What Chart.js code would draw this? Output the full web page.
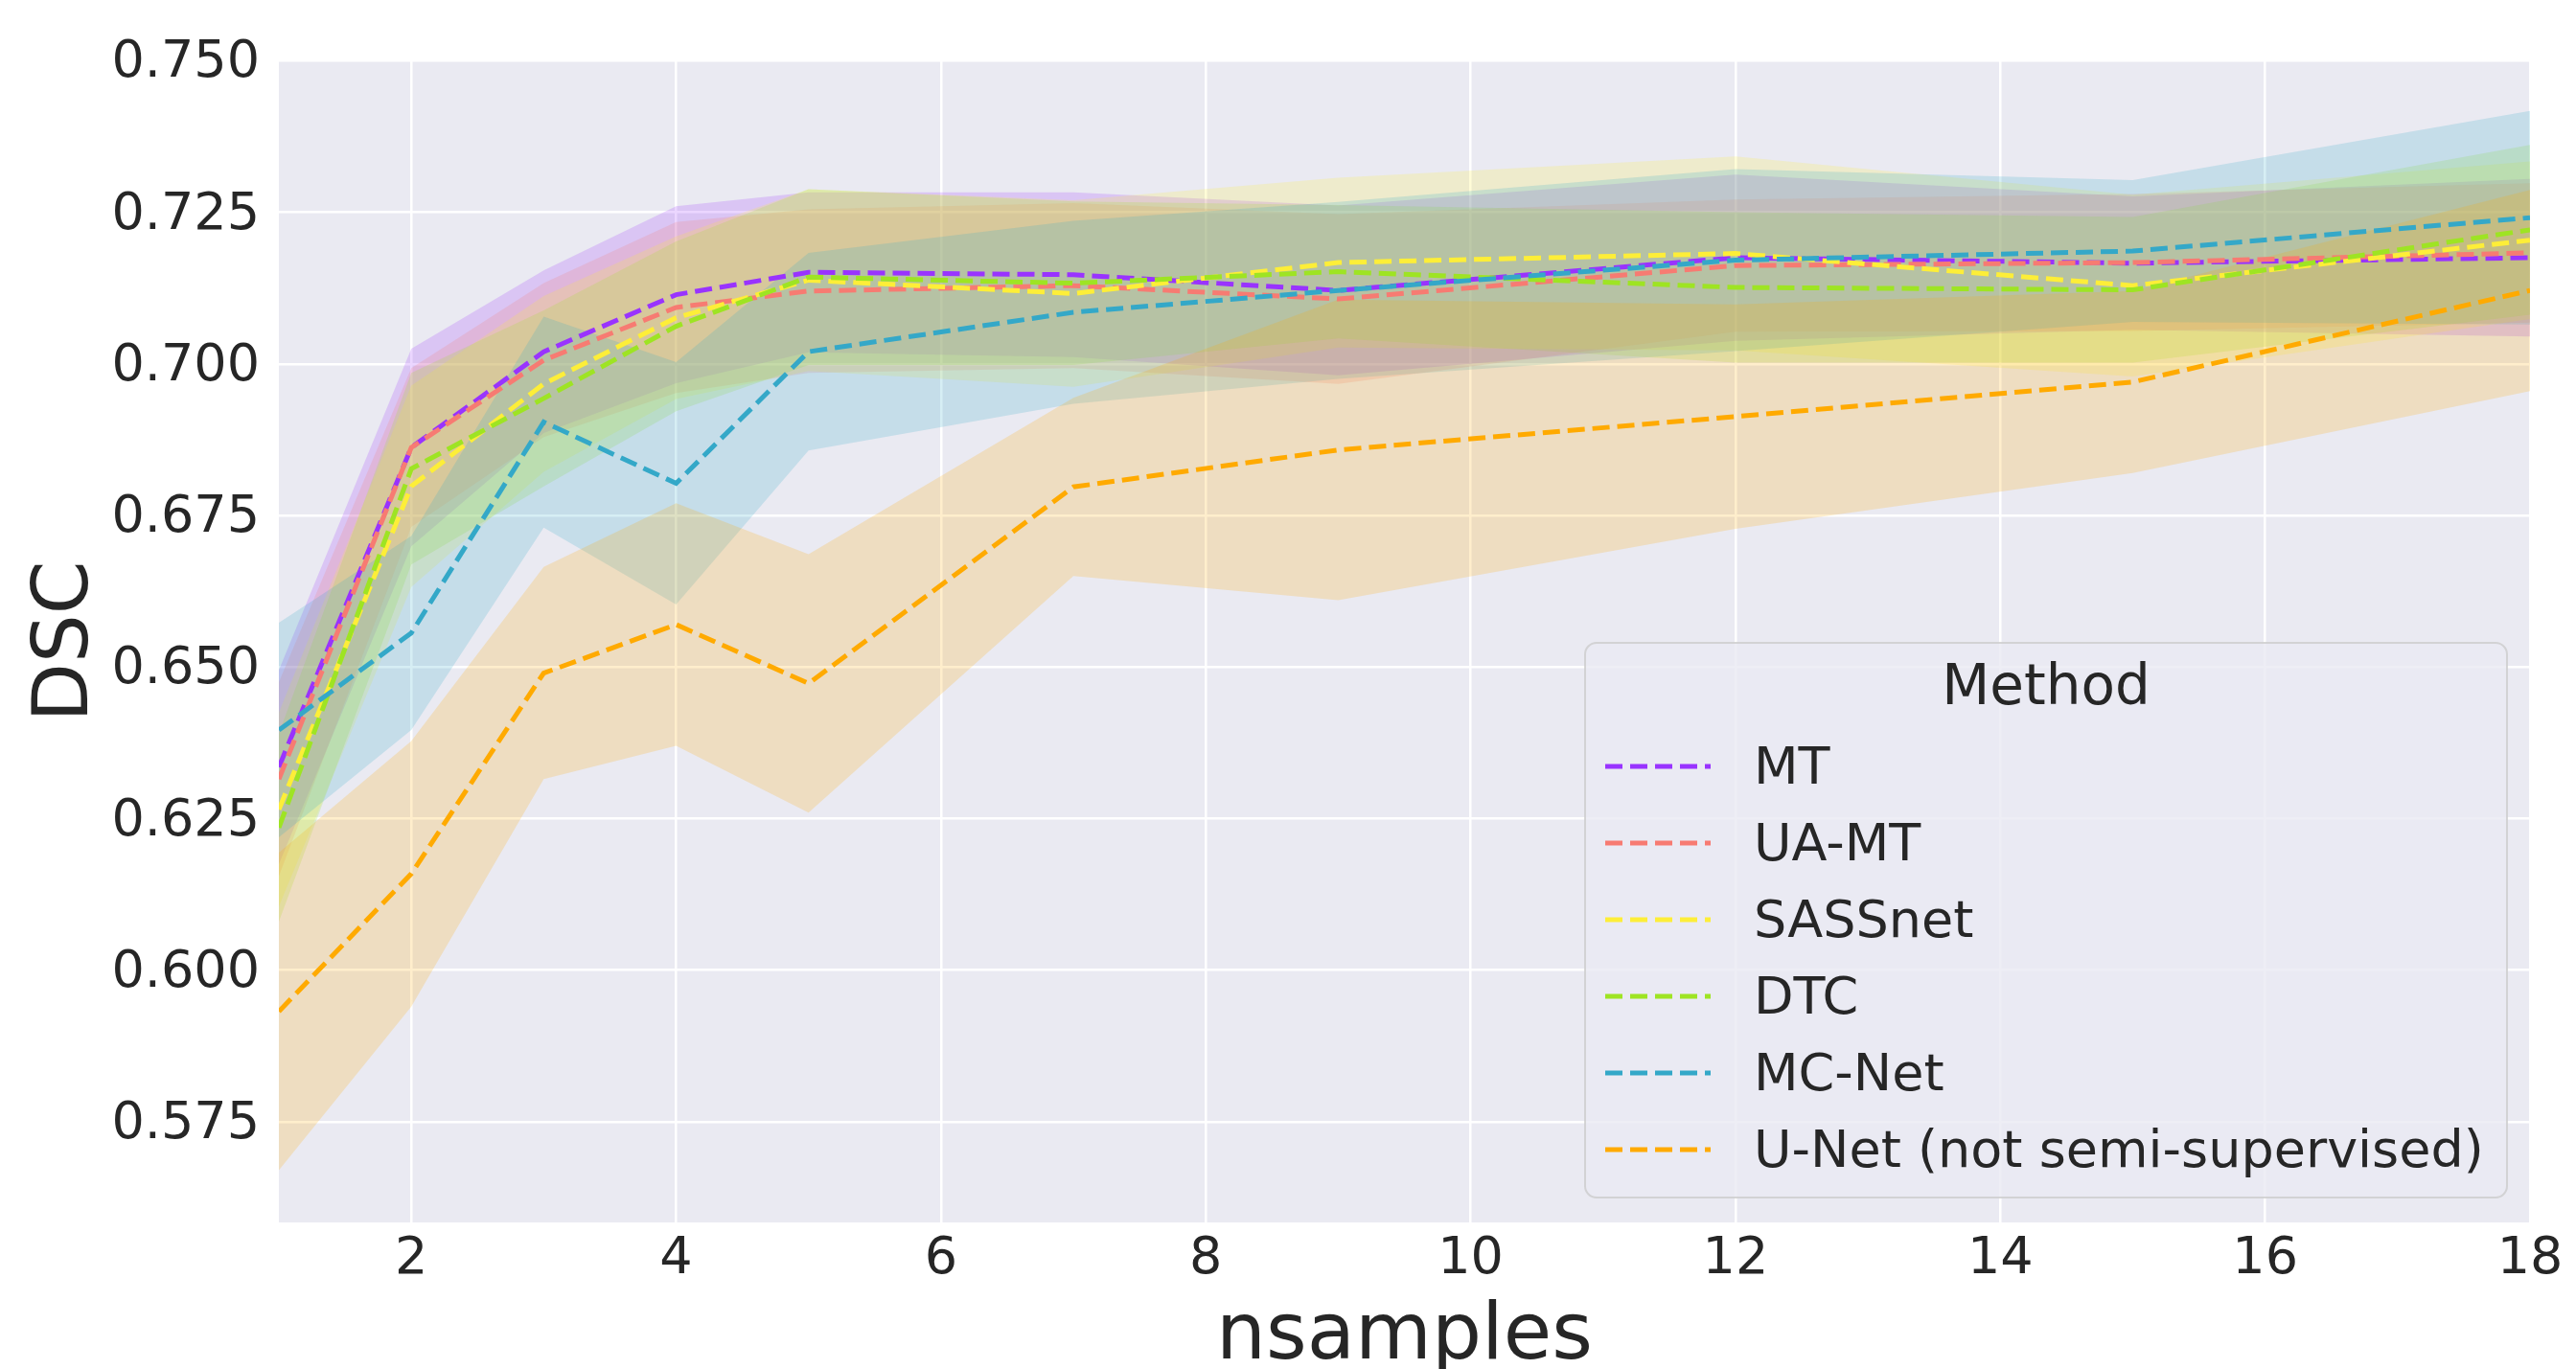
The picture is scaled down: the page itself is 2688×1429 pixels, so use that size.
<!DOCTYPE html>
<html>
<head>
<meta charset="utf-8">
<title>DSC vs nsamples</title>
<script src="https://cdn.jsdelivr.net/npm/chart.js@4.4.1/dist/chart.umd.min.js"></script>
<style>
    html, body { margin: 0; padding: 0; background: white; }
    #wrap { width: 2688px; height: 1429px; }
</style>
</head>
<body>
<div id="wrap"><canvas id="chart" width="2688" height="1429"></canvas></div>
<script>
// x positions (number of labelled samples)
const nsamples = [1, 2, 3, 4, 5, 7, 9, 12, 15, 18];

// mean DSC per method
const mtMean   = [0.6335, 0.6862, 0.7020, 0.7114, 0.7151, 0.7147, 0.7121, 0.7175, 0.7166, 0.7175];
const uaMean   = [0.6315, 0.6862, 0.7006, 0.7093, 0.7120, 0.7129, 0.7107, 0.7162, 0.7167, 0.7183];
const sassMean = [0.6265, 0.6798, 0.6967, 0.7076, 0.7138, 0.7116, 0.7167, 0.7182, 0.7129, 0.7204];
const dtcMean  = [0.6235, 0.6827, 0.6943, 0.7062, 0.7143, 0.7133, 0.7152, 0.7126, 0.7122, 0.7221];
const mcMean   = [0.6396, 0.6556, 0.6904, 0.6803, 0.7020, 0.7085, 0.7121, 0.7171, 0.7186, 0.7241];
const unetMean = [0.5932, 0.6159, 0.6490, 0.6570, 0.6473, 0.6797, 0.6858, 0.6913, 0.6970, 0.7121];

// standard deviation (shaded band = mean +/- sd)
const mtSd   = [0.0160, 0.0163, 0.0134, 0.0146, 0.0132, 0.0136, 0.0140, 0.0137, 0.0110, 0.0130];
const uaSd   = [0.0160, 0.0131, 0.0127, 0.0141, 0.0135, 0.0136, 0.0140, 0.0109, 0.0113, 0.0115];
const sassSd = [0.0160, 0.0166, 0.0145, 0.0134, 0.0150, 0.0154, 0.0140, 0.0160, 0.0150, 0.0130];
const dtcSd  = [0.0155, 0.0158, 0.0145, 0.0140, 0.0145, 0.0135, 0.0110, 0.0124, 0.0120, 0.0140];
const mcSd   = [0.0177, 0.0160, 0.0174, 0.0200, 0.0163, 0.0151, 0.0146, 0.0150, 0.0117, 0.0176];
const unetSd = [0.0262, 0.0219, 0.0175, 0.0200, 0.0213, 0.0147, 0.0248, 0.0185, 0.0150, 0.0166];

const methodNames = ['MT', 'UA-MT', 'SASSnet', 'DTC', 'MC-Net', 'U-Net (not semi-supervised)'];
const methodColors = ['#9933ff', '#f77b72', '#fdee38', '#9ee423', '#34a8c8', '#ffaa00'];
const methodMeans = [mtMean, uaMean, sassMean, dtcMean, mcMean, unetMean];
const methodSds = [mtSd, uaSd, sassSd, dtcSd, mcSd, unetSd];

const xTicks = [2, 4, 6, 8, 10, 12, 14, 16, 18];
const yTicks = [0.575, 0.600, 0.625, 0.650, 0.675, 0.700, 0.725, 0.750];

const TEXT = '#262626';
const DASH = [18, 8];

function hexToRgba(hex, a) {
    const n = parseInt(hex.slice(1), 16);
    return `rgba(${(n >> 16) & 255}, ${(n >> 8) & 255}, ${n & 255}, ${a})`;
}

function toPoints(values) {
    return values.map((v, i) => ({ x: nsamples[i], y: v }));
}

// bands first (upper filled down to lower), then the dashed mean lines.
// Lower "order" is painted later, so U-Net ends up on top like in seaborn.
const datasets = [];
methodNames.forEach((name, i) => {
    const mean = methodMeans[i], sd = methodSds[i];
    datasets.push({
        label: name + ' upper',
        data: toPoints(mean.map((m, k) => m + sd[k])),
        borderColor: 'rgba(0,0,0,0)',
        borderWidth: 0,
        pointRadius: 0,
        backgroundColor: hexToRgba(methodColors[i], 0.2),
        fill: '+1',
        order: 30 - i
    });
    datasets.push({
        label: name + ' lower',
        data: toPoints(mean.map((m, k) => m - sd[k])),
        borderColor: 'rgba(0,0,0,0)',
        borderWidth: 0,
        pointRadius: 0,
        fill: false,
        order: 30 - i
    });
});
methodNames.forEach((name, i) => {
    datasets.push({
        label: name,
        data: toPoints(methodMeans[i]),
        borderColor: methodColors[i],
        borderWidth: 5,
        borderDash: DASH,
        pointRadius: 0,
        fill: false,
        tension: 0,
        order: 10 - i
    });
});

// axes background (seaborn darkgrid)
const plotBackground = {
    id: 'plotBackground',
    beforeDraw(chart) {
        const { ctx, chartArea: a } = chart;
        ctx.save();
        ctx.fillStyle = '#eaeaf2';
        ctx.fillRect(a.left, a.top, a.right - a.left, a.bottom - a.top);
        ctx.restore();
    }
};

// legend box inside the plot, lower right
const methodLegend = {
    id: 'methodLegend',
    afterDraw(chart) {
        const ctx = chart.ctx;
        const box = { x: 1654, y: 671, w: 962, h: 579, r: 12 };
        ctx.save();
        ctx.beginPath();
        ctx.roundRect(box.x, box.y, box.w, box.h, box.r);
        ctx.fillStyle = 'rgba(234, 234, 242, 0.8)';
        ctx.fill();
        ctx.lineWidth = 2;
        ctx.strokeStyle = 'rgba(204, 204, 204, 0.8)';
        ctx.stroke();

        ctx.fillStyle = TEXT;
        ctx.textBaseline = 'middle';
        ctx.textAlign = 'center';
        ctx.font = '58px "DejaVu Sans"';
        ctx.fillText('Method', box.x + box.w / 2, 720);

        ctx.textAlign = 'left';
        ctx.font = '54px "DejaVu Sans"';
        methodNames.forEach((name, i) => {
            const y = 800 + i * 80;
            ctx.beginPath();
            ctx.setLineDash(DASH);
            ctx.lineWidth = 5;
            ctx.strokeStyle = methodColors[i];
            ctx.moveTo(1675, y);
            ctx.lineTo(1785, y);
            ctx.stroke();
            ctx.setLineDash([]);
            ctx.fillText(name, 1830, y + 4);
        });
        ctx.restore();
    }
};

Chart.defaults.font.family = '"DejaVu Sans"';
Chart.defaults.color = TEXT;

new Chart(document.getElementById('chart'), {
    type: 'line',
    data: { datasets: datasets },
    options: {
        responsive: false,
        animation: false,
        events: [],
        layout: { padding: { left: 0, top: 63, right: 48, bottom: 0 } },
        plugins: {
            legend: { display: false },
            tooltip: { enabled: false },
            filler: { drawTime: 'beforeDatasetsDraw' }
        },
        scales: {
            x: {
                type: 'linear',
                min: 1,
                max: 18,
                afterBuildTicks: axis => { axis.ticks = xTicks.map(v => ({ value: v })); },
                afterFit: scale => { scale.height = 153; },
                grid: { color: '#ffffff', lineWidth: 2.5, drawTicks: false },
                border: { display: false },
                ticks: { font: { size: 54 }, color: TEXT, padding: 7, maxRotation: 0 },
                title: {
                    display: true,
                    text: 'nsamples',
                    color: TEXT,
                    font: { size: 82, lineHeight: 0.78 },
                    padding: { top: 0, bottom: 0 }
                }
            },
            y: {
                type: 'linear',
                min: 0.5584,
                max: 0.75005,
                afterBuildTicks: axis => { axis.ticks = yTicks.map(v => ({ value: v })); },
                afterFit: scale => { scale.width = 291; },
                grid: { color: '#ffffff', lineWidth: 2.5, drawTicks: false },
                border: { display: false },
                ticks: {
                    font: { size: 54 },
                    color: TEXT,
                    padding: 20,
                    labelOffset: 3,
                    callback: v => v.toFixed(3)
                },
                title: {
                    display: true,
                    text: 'DSC',
                    color: TEXT,
                    font: { size: 80, lineHeight: 1 },
                    padding: { top: 30, bottom: 0 }
                }
            }
        }
    },
    plugins: [plotBackground, methodLegend]
});
</script>
</body>
</html>
